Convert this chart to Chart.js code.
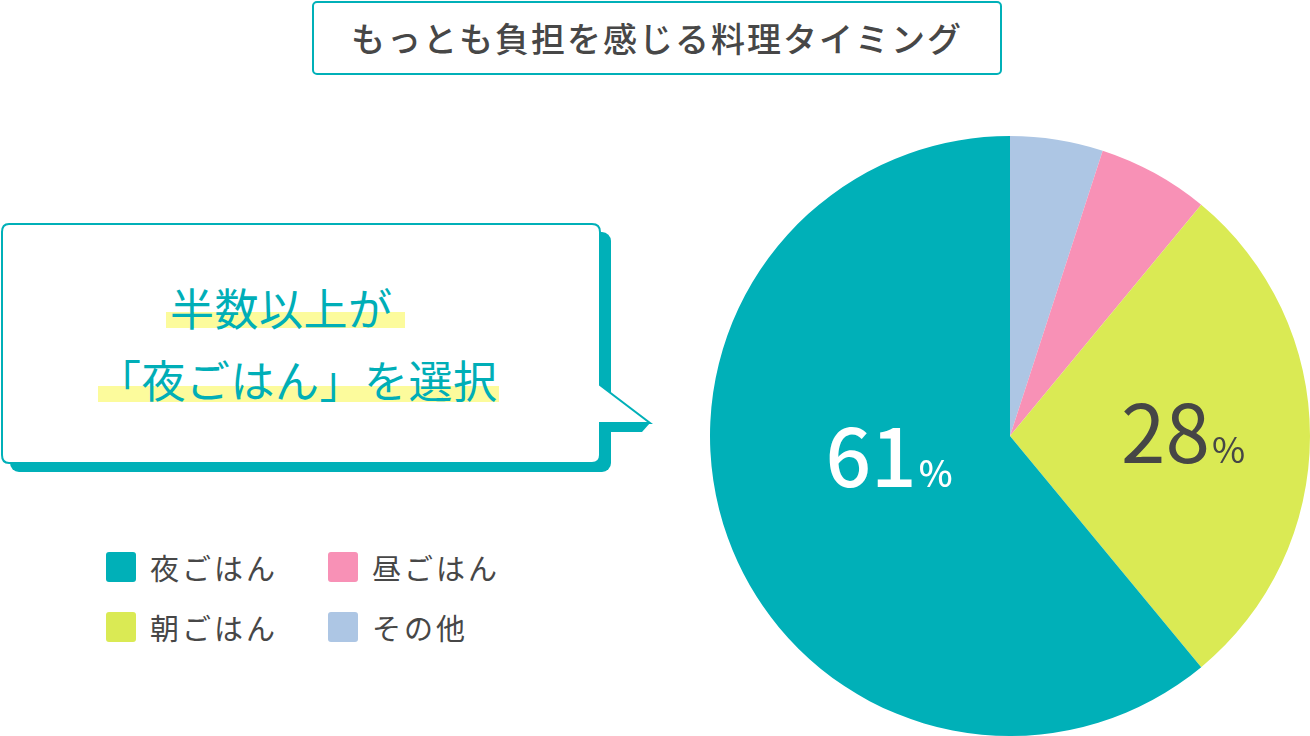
<!DOCTYPE html>
<html lang="ja">
<head>
<meta charset="utf-8">
<script src="https://cdn.jsdelivr.net/npm/chart.js@4/dist/chart.umd.min.js"></script>
<style>
  html, body { margin: 0; padding: 0; background: #fff; }
  body { width: 1310px; height: 736px; position: relative; overflow: hidden;
         font-family: "Noto Sans CJK JP", "Noto Sans", sans-serif; color: #474747; }
  .title { position: absolute; left: 312px; top: 1px; width: 686px; height: 70px;
           border: 2px solid #00b0b8; border-radius: 5px; text-align: center;
           font-size: 34px; line-height: 70px; letter-spacing: 2px; font-weight: 500; }
  .bubble { position: absolute; left: 0; top: 0; }
  .hl { position: absolute; background: #fcfb9c; }
  .line { position: absolute; font-size: 44px; line-height: 44px; color: #00aeb7;
          white-space: nowrap; letter-spacing: 0.5px; }
  .legend-item { position: absolute; font-size: 29px; line-height: 30px; letter-spacing: 3px; }
  .legend-item i { position: absolute; left: -44px; top: 0; width: 30px; height: 30px; border-radius: 3px; }
  #pie-wrap { position: absolute; left: 710px; top: 136px; width: 600px; height: 600px; }
</style>
</head>
<body>
<div class="title">もっとも負担を感じる料理タイミング</div>

<svg class="bubble" width="660" height="480">
  <rect x="10" y="232" width="601" height="240" rx="9" fill="#00b0b8"/>
  <polygon points="600,423 650,423 642,432 600,432" fill="#00b0b8"/>
  <path d="M9,224 H592 Q600,224 600,232 V385 L650,423 H600 V455 Q600,463 592,463 H9 Q2,463 2,455 V232 Q2,224 9,224 Z"
        fill="#fff" stroke="#00b0b8" stroke-width="2"/>
</svg>
<div class="hl" style="left:166px; top:312px; width:239px; height:16px;"></div>
<div class="hl" style="left:98px; top:386px; width:401px; height:16px;"></div>
<div class="line" style="left:170px; top:285px;">半数以上が</div>
<div class="line" style="left:97px; top:357px;">「夜ごはん」を選択</div>

<div id="legend"></div>

<div id="pie-wrap"><canvas id="chart-pie"></canvas></div>

<script>
// clockwise from 12 o'clock
const categories = ['その他', '昼ごはん', '朝ごはん', '夜ごはん'];
const shares = [5, 6, 28, 61];
const sliceColors = ['#adc6e4', '#f891b6', '#daea54', '#00b0b8'];
// which slices get a big % label, and its colour
const labelColors = [null, null, '#464646', '#ffffff'];
const labelWeights = [400, 400, 400, 500];
// legend reading order (row by row)
const legendOrder = ['夜ごはん', '昼ごはん', '朝ごはん', 'その他'];

// Legend
const legendEl = document.getElementById('legend');
legendOrder.forEach((name, i) => {
  const idx = categories.indexOf(name);
  const col = i % 2, row = Math.floor(i / 2);
  const item = document.createElement('div');
  item.className = 'legend-item';
  item.style.left = (150 + col * 222) + 'px';
  item.style.top = (552 + row * 60) + 'px';
  item.innerHTML = '<i style="background:' + sliceColors[idx] + '"></i>' + name;
  legendEl.appendChild(item);
});

// Draws "61%" style labels inside slices
const percentLabels = {
  id: 'percentLabels',
  afterDatasetsDraw(chart, args, opts) {
    const ctx = chart.ctx;
    const meta = chart.getDatasetMeta(0);
    meta.data.forEach((arc, i) => {
      if (!labelColors[i]) return;
      const pos = opts.spots[i];
      const ang = arc.startAngle + (arc.endAngle - arc.startAngle) * pos.a;
      const r = arc.outerRadius * pos.r;
      const cx = arc.x + Math.cos(ang) * r;
      const cy = arc.y + Math.sin(ang) * r;
      const num = String(shares[i]);
      const bigFont = labelWeights[i] + ' 80px "Noto Sans CJK JP"';
      const smallFont = labelWeights[i] + ' 36px "Noto Sans CJK JP"';
      ctx.save();
      ctx.fillStyle = labelColors[i];
      ctx.textBaseline = 'alphabetic';
      ctx.textAlign = 'left';
      ctx.font = bigFont;
      const wNum = ctx.measureText(num).width;
      ctx.font = smallFont;
      const wPct = ctx.measureText('%').width;
      const x0 = cx - (wNum + 2 + wPct) / 2;
      const base = cy + 29;
      ctx.font = bigFont;
      ctx.fillText(num, x0, base);
      ctx.font = smallFont;
      ctx.fillText('%', x0 + wNum + 2, base);
      ctx.restore();
    });
  }
};

const chart = new Chart(document.getElementById('chart-pie').getContext('2d'), {
  type: 'pie',
  data: {
    labels: categories,
    datasets: [{
      data: shares,
      backgroundColor: sliceColors,
      borderWidth: 0
    }]
  },
  options: {
    responsive: true,
    maintainAspectRatio: false,
    animation: false,
    layout: { padding: 0 },
    plugins: {
      legend: { display: false },
      tooltip: { enabled: false },
      percentLabels: {
        spots: [null, null, { a: 0.493, r: 0.577 }, { a: 0.543, r: 0.41 }]
      }
    }
  },
  plugins: [percentLabels]
});
</script>
</body>
</html>
